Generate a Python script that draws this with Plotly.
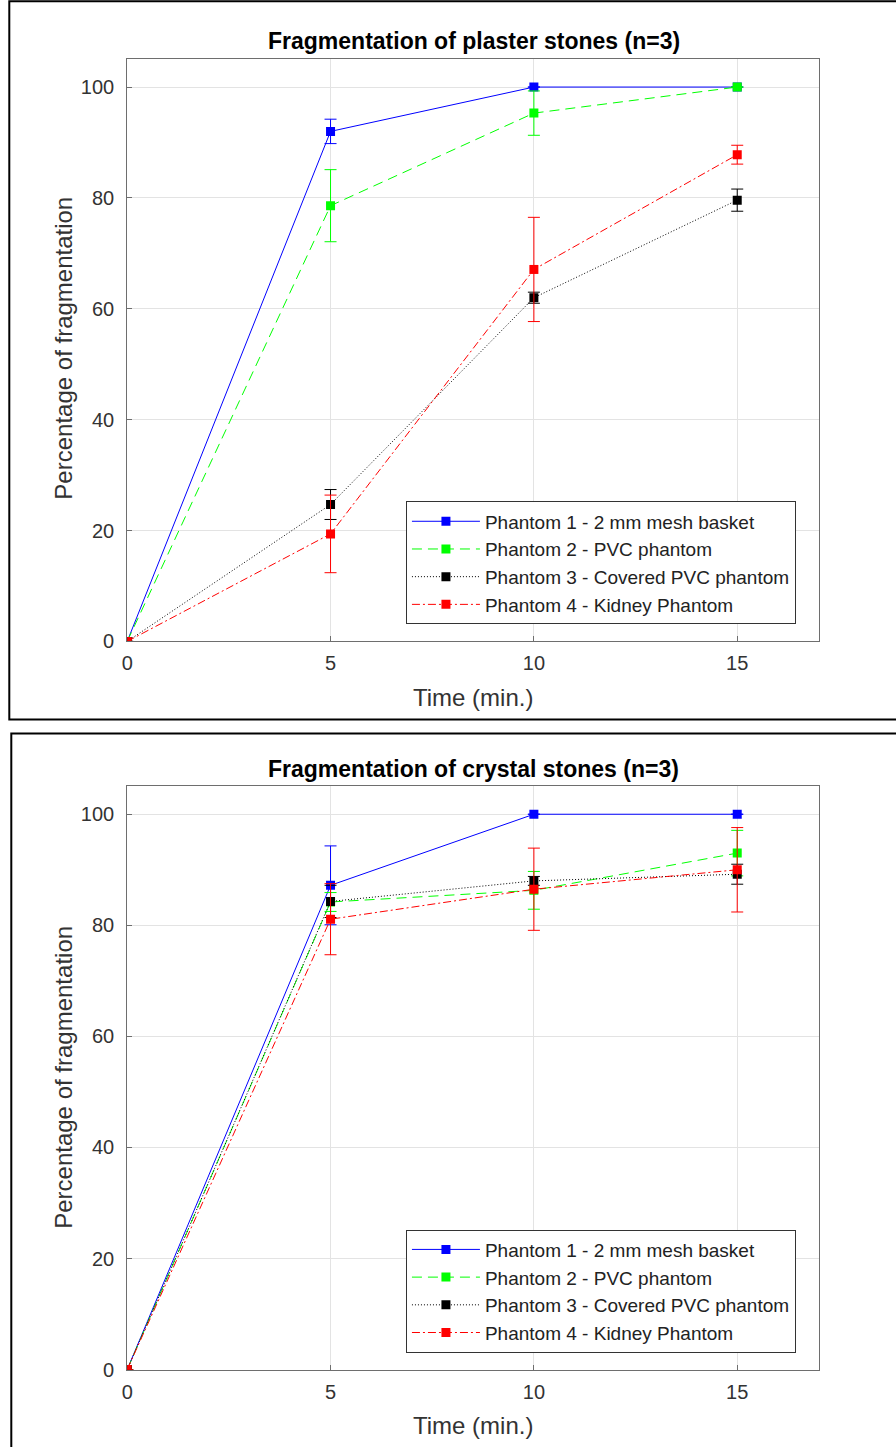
import plotly.graph_objects as go

W, H = 896, 1447

time_min = [0, 5, 10, 15]
series_names = ["Phantom 1 - 2 mm mesh basket", "Phantom 2 - PVC phantom",
                "Phantom 3 - Covered PVC phantom", "Phantom 4 - Kidney Phantom"]

# Plaster stones
plaster_p1 = [0, 92.0, 100, 100]
plaster_p1_err = [0, 2.2, 0, 0]
plaster_p2 = [0, 78.6, 95.3, 100]
plaster_p2_err = [0, 6.5, 4.0, 0]
plaster_p3 = [0, 24.7, 62.0, 79.6]
plaster_p3_err = [0, 2.7, 1.0, 2.0]
plaster_p4 = [0, 19.4, 67.1, 87.8]
plaster_p4_err = [0, 7.0, 9.4, 1.7]

# Crystal stones
crystal_p1 = [0, 87.2, 100, 100]
crystal_p1_err = [0, 7.1, 0, 0]
crystal_p2 = [0, 84.2, 86.3, 93.0]
crystal_p2_err = [0, 1.7, 3.4, 4.1]
crystal_p3 = [0, 84.3, 88.0, 89.2]
crystal_p3_err = [0, 2.9, 0.8, 1.8]
crystal_p4 = [0, 81.1, 86.5, 90.0]
crystal_p4_err = [0, 6.4, 7.4, 7.6]

colors = ["#0000ff", "#00ff00", "#000000", "#ff0000"]
dashes = ["solid", "10px,6px", "1px,2px", "8px,3px,2px,3px"]

fig = go.Figure()

def add_series(vals, errs, idx, xa, ya, legend):
    fig.add_trace(go.Scatter(
        x=time_min, y=vals, name=series_names[idx], mode="lines+markers",
        xaxis=xa, yaxis=ya, legend=legend,
        line=dict(color=colors[idx], width=1, dash=dashes[idx]),
        marker=dict(symbol="square", size=9, color=colors[idx]),
        error_y=dict(type="data", array=errs, visible=True, color=colors[idx],
                     thickness=1, width=6),
    ))

plaster = [(plaster_p1, plaster_p1_err), (plaster_p2, plaster_p2_err),
           (plaster_p3, plaster_p3_err), (plaster_p4, plaster_p4_err)]
crystal = [(crystal_p1, crystal_p1_err), (crystal_p2, crystal_p2_err),
           (crystal_p3, crystal_p3_err), (crystal_p4, crystal_p4_err)]

for i, (v, e) in enumerate(plaster):
    add_series(v, e, i, "x", "y", "legend")
for i, (v, e) in enumerate(crystal):
    add_series(v, e, i, "x2", "y2", "legend2")

# pixel -> paper helpers (with small empirical correction)
def px(x):
    return ((x - 4.7) / 0.9942) / W

def py(y):
    return 1 - ((y - 0.68) / 0.9922) / H

axis_color = "#6e6e6e"
tick_font = dict(family="Liberation Sans, Arial, sans-serif", size=20, color="#333333")
xd = [px(126), px(818)]

common_x = dict(range=[0, 17], tickvals=[0, 5, 10, 15], showgrid=True, gridcolor="#e3e3e3",
                showline=True, mirror=True, linecolor=axis_color, linewidth=1,
                ticks="inside", ticklen=5, tickcolor=axis_color, tickfont=tick_font,
                ticklabelstandoff=4, zeroline=False, fixedrange=True)
common_y = dict(range=[0, 105], tickvals=[0, 20, 40, 60, 80, 100], showgrid=True,
                gridcolor="#e3e3e3", showline=True, mirror=True, linecolor=axis_color,
                linewidth=1, ticks="inside", ticklen=5, tickcolor=axis_color,
                tickfont=tick_font, ticklabelstandoff=8, zeroline=False, fixedrange=True)

legend_style = dict(xanchor="left", yanchor="top", bgcolor="white", bordercolor="#333333",
                    borderwidth=1, font=dict(family="Liberation Sans, Arial, sans-serif",
                                             size=19, color="#222222"), itemwidth=68)

fig.update_layout(
    width=W, height=H, margin=dict(l=0, r=0, t=0, b=0),
    paper_bgcolor="white", plot_bgcolor="white",
    font=dict(family="Liberation Sans, Arial, sans-serif", color="#333333"),
    xaxis=dict(domain=xd, anchor="y", **common_x),
    yaxis=dict(domain=[py(642), py(60)], anchor="x", **common_y),
    xaxis2=dict(domain=xd, anchor="y2", **common_x),
    yaxis2=dict(domain=[py(1370), py(787)], anchor="x2", **common_y),
    legend=dict(x=px(405), y=py(502), **legend_style),
    legend2=dict(x=px(405), y=py(1230), **legend_style),
    showlegend=True,
)

title_font = dict(family="Liberation Sans Narrow, Arial Narrow, Liberation Sans, sans-serif",
                  size=23, color="#000000")
label_font = dict(family="Liberation Sans, Arial, sans-serif", size=24, color="#333333")

def ann(text, x, y, font, angle=0):
    return dict(text=text, x=px(x), y=py(y), xref="paper", yref="paper", showarrow=False,
                xanchor="center", yanchor="middle", textangle=angle, font=font)

annotations = [
    ann("<b>Fragmentation of plaster stones (n=3)</b>", 473, 42, title_font),
    ann("<b>Fragmentation of crystal stones (n=3)</b>", 473, 770, title_font),
    ann("Time (min.)", 472, 698, label_font),
    ann("Time (min.)", 472, 1426, label_font),
    ann("Percentage of fragmentation", 62, 349, label_font, -90),
    ann("Percentage of fragmentation", 62, 1078, label_font, -90),
]
fig.update_layout(annotations=annotations)

shapes = [
    dict(type="rect", xref="paper", yref="paper", x0=px(8), x1=px(910), y0=py(720), y1=py(2),
         line=dict(color="black", width=2), fillcolor="rgba(0,0,0,0)", layer="below"),
    dict(type="rect", xref="paper", yref="paper", x0=px(10), x1=px(910), y0=py(1465), y1=py(734),
         line=dict(color="black", width=2), fillcolor="rgba(0,0,0,0)", layer="below"),
]
fig.update_layout(shapes=shapes)

fig.write_html("out.html")
